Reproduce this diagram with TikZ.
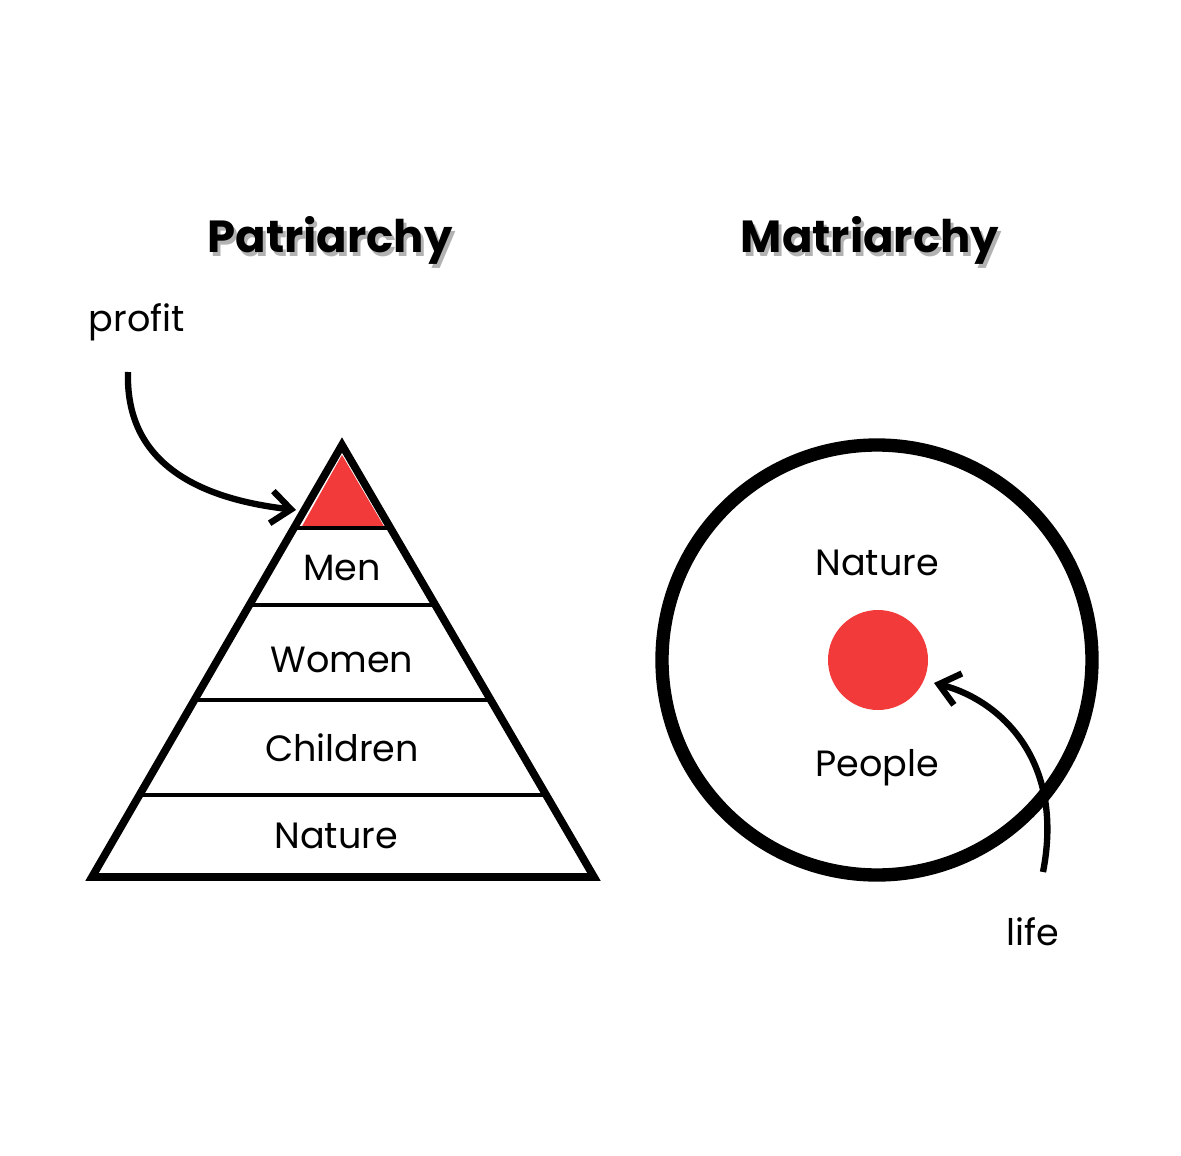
\documentclass[tikz,border=0pt]{standalone}
\usepackage{fontspec}
\setmainfont{Poppins}
\usetikzlibrary{arrows.meta}
\definecolor{redfill}{HTML}{F23A3A}
\tikzset{lbl/.style={font=\fontsize{52}{56}\selectfont},
ttl/.style={font=\fontsize{64}{68}\selectfont\bfseries},
arr/.style={line width=9pt,-{Straight Barb[length=28pt,width=46pt,line width=9pt]}}}
\begin{document}
\begin{tikzpicture}[x=0.05cm,y=-0.05cm]
\useasboundingbox (0,0) rectangle (1181,1156);
\fill[white] (0,0) rectangle (1181,1156);
% titles
\node[ttl,text=gray!60] at (333,244) {Patriarchy};
\node[ttl] (pt) at (330,240) {Patriarchy};
\node[ttl,text=gray!60] at (873,244) {Matriarchy};
\node[ttl] (mt) at (870,240) {Matriarchy};
% pyramid
\coordinate (A) at (342,445);
\coordinate (L) at (92,877);
\coordinate (R) at (594,877);
\fill[redfill] (342,455) -- (301,528) -- (385,528) -- cycle;
\foreach \y in {528,605,700,795}{
  \draw[line width=6pt] ({342-(\y-445)/432*250},\y) -- ({342+(\y-445)/432*252},\y);
}
\draw[line width=11pt,line join=miter] (A) -- (L) -- (R) -- cycle;
\node[lbl] (men) at (342,568) {Men};
\node[lbl] (women) at (342,660) {Women};
\node[lbl] (children) at (342,748) {Children};
\node[lbl] (nat1) at (336,836) {Nature};
\node[lbl] (profit) at (137,322) {profit};
\coordinate (ps) at (128,372);
\coordinate (pe) at (296,510);
\draw[arr] (ps) .. controls (125,470) and (210,500) .. (pe);
% circle
\draw[line width=19pt] (877,660) circle (215);
\fill[redfill] (878,660) circle (50);
\coordinate (dot) at (934,683);
\node[lbl] (nat2) at (877,563) {Nature};
\node[lbl] (people) at (877,768) {People};
\node[lbl] (life) at (1033,932) {life};
\coordinate (ls) at (1043,872);
\draw[arr] (ls) .. controls (1065,760) and (1000,700) .. (dot);
\end{tikzpicture}
\end{document}
